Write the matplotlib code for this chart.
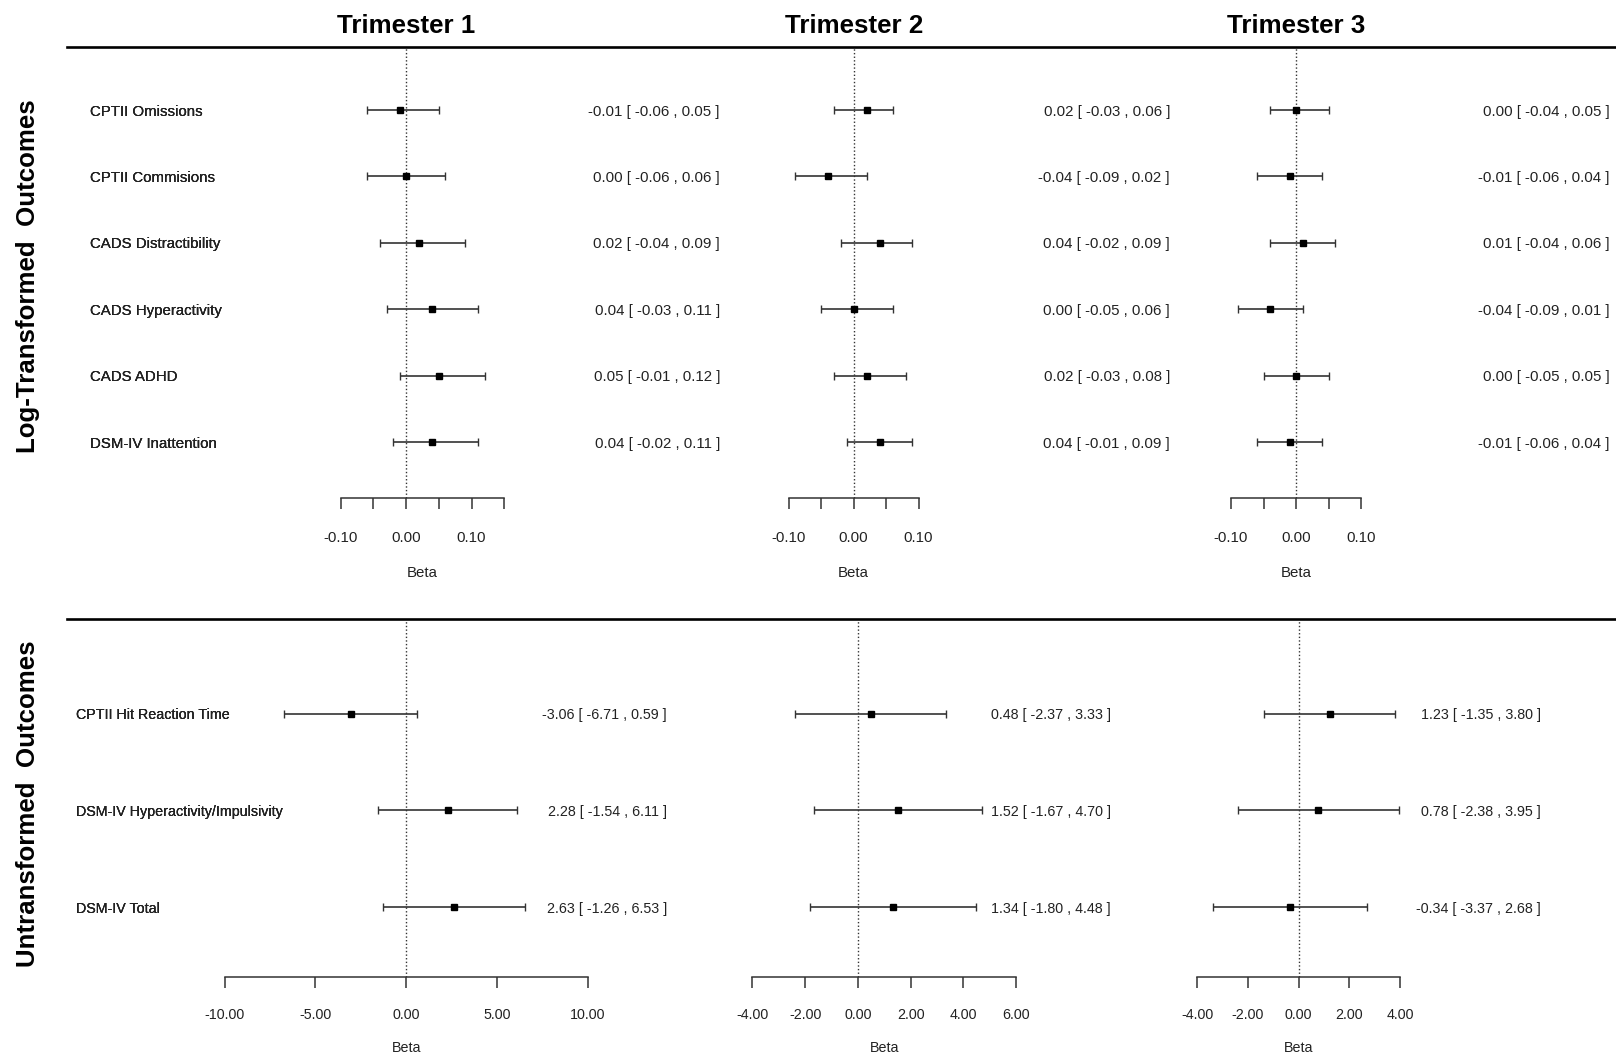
import matplotlib
matplotlib.use("Agg")
import matplotlib.pyplot as plt
import numpy as np
from matplotlib.lines import Line2D
from matplotlib.transforms import blended_transform_factory

plt.rcParams["font.family"] = ["Liberation Sans", "DejaVu Sans"]
plt.rcParams["axes.unicode_minus"] = False

trimesters = ["Trimester 1", "Trimester 2", "Trimester 3"]

log_outcomes = [
    "CPTII Omissions",
    "CPTII Commisions",
    "CADS Distractibility",
    "CADS Hyperactivity",
    "CADS ADHD",
    "DSM-IV Inattention",
]
raw_outcomes = [
    "CPTII Hit Reaction Time",
    "DSM-IV Hyperactivity/Impulsivity",
    "DSM-IV Total",
]

# betas and 95% CIs, one list per trimester
log_est = [
    [-0.01, 0.00, 0.02, 0.04, 0.05, 0.04],
    [0.02, -0.04, 0.04, 0.00, 0.02, 0.04],
    [0.00, -0.01, 0.01, -0.04, 0.00, -0.01],
]
log_lo = [
    [-0.06, -0.06, -0.04, -0.03, -0.01, -0.02],
    [-0.03, -0.09, -0.02, -0.05, -0.03, -0.01],
    [-0.04, -0.06, -0.04, -0.09, -0.05, -0.06],
]
log_hi = [
    [0.05, 0.06, 0.09, 0.11, 0.12, 0.11],
    [0.06, 0.02, 0.09, 0.06, 0.08, 0.09],
    [0.05, 0.04, 0.06, 0.01, 0.05, 0.04],
]

raw_est = [
    [-3.06, 2.28, 2.63],
    [0.48, 1.52, 1.34],
    [1.23, 0.78, -0.34],
]
raw_lo = [
    [-6.71, -1.54, -1.26],
    [-2.37, -1.67, -1.80],
    [-1.35, -2.38, -3.37],
]
raw_hi = [
    [0.59, 6.11, 6.53],
    [3.33, 4.70, 4.48],
    [3.80, 3.95, 2.68],
]

log_ticks = [
    [-0.10, -0.05, 0.00, 0.05, 0.10, 0.15],
    [-0.10, -0.05, 0.00, 0.05, 0.10],
    [-0.10, -0.05, 0.00, 0.05, 0.10],
]
log_tick_labels = [-0.10, 0.00, 0.10]
raw_ticks = [
    [-10, -5, 0, 5, 10],
    [-4, -2, 0, 2, 4, 6],
    [-4, -2, 0, 2, 4],
]

# layout in pixels of a 1616 x 1055 canvas
W, H = 1616, 1055
top_span = [(340.7, 504.3), (788.8, 918.5), (1231.0, 1361.3)]
bot_span = [(224.7, 587.7), (752.4, 1016.2), (1197.0, 1400.0)]
top_ci_right = [720, 1170, 1610]
bot_ci_right = [667, 1111, 1541]


def fx(px):
    return px / W


def fy(py):
    return 1 - py / H


fig = plt.figure(figsize=(W / 100, H / 100), dpi=100)
fig.patch.set_facecolor("white")

txt_col = "#222222"


def forest(ax, est, lo, hi, names, ticks, labeled, ylim, fs, name_x, ci_right, ms, pad):
    est = np.array(est)
    lo = np.array(lo)
    hi = np.array(hi)
    n = len(est)
    ypos = np.arange(n, 0, -1)

    ax.set_xlim(ticks[0], ticks[-1])
    ax.set_ylim(*ylim)
    ax.patch.set_visible(False)

    ax.axvline(0, color="#333333", lw=1.0, ls=(0, (1, 1.6)), zorder=1)
    ax.errorbar(est, ypos, xerr=[est - lo, hi - est], fmt="s", ms=ms,
                mfc="black", mec="black", ecolor="#333333", elinewidth=1.2,
                capsize=3.2, capthick=1.0, clip_on=False, zorder=3)

    ax.set_xticks(ticks)
    ax.set_xticklabels([f"{t:.2f}" if any(abs(t - l) < 1e-9 for l in labeled) else ""
                        for t in ticks])
    ax.set_yticks([])
    for s in ["left", "top", "right"]:
        ax.spines[s].set_visible(False)
    ax.spines["bottom"].set_linewidth(1.1)
    ax.spines["bottom"].set_color("#333333")
    ax.tick_params(axis="x", direction="out", length=8, width=1.1,
                   color="#333333", labelsize=fs, labelcolor=txt_col, pad=pad)

    trans = blended_transform_factory(fig.transFigure, ax.transData)
    for name, y, e, l, h in zip(names, ypos, est, lo, hi):
        ax.text(fx(name_x), y, name, transform=trans, ha="left", va="center_baseline",
                fontsize=fs, color=txt_col)
        ax.text(fx(ci_right), y, f"{e:.2f} [ {l:.2f} , {h:.2f} ]",
                transform=trans, ha="right", va="center_baseline", fontsize=fs, color=txt_col)


for i in range(3):
    x0, x1 = top_span[i]
    ax = fig.add_axes([fx(x0), fy(498), fx(x1) - fx(x0), fy(47) - fy(498)])
    forest(ax, log_est[i], log_lo[i], log_hi[i], log_outcomes, log_ticks[i],
           log_tick_labels, (0.157, 6.949), 10.8, 90, top_ci_right[i], 5, 15.5)
    ax.set_xlabel("Beta", fontsize=10.8, color=txt_col, labelpad=15.5)
    ax.text(0, fy(26), trimesters[i], transform=blended_transform_factory(ax.transData, fig.transFigure),
            ha="center", va="center", fontsize=18.6, fontweight="bold", color="black")

    x0, x1 = bot_span[i]
    ax = fig.add_axes([fx(x0), fy(977), fx(x1) - fx(x0), fy(619) - fy(977)])
    forest(ax, raw_est[i], raw_lo[i], raw_hi[i], raw_outcomes, raw_ticks[i],
           raw_ticks[i], (0.275, 3.984), 10.3, 76.5, bot_ci_right[i], 5, 14)
    ax.set_xlabel("Beta", fontsize=10.3, color=txt_col, labelpad=14.2)

# section rules across the figure
for py in [47, 619]:
    fig.add_artist(Line2D([fx(67), 1.0], [fy(py), fy(py)], transform=fig.transFigure,
                          color="black", lw=1.9))

fig.text(fx(28), fy(276), "Log-Transformed  Outcomes", rotation=90, ha="center",
         va="center", fontsize=18.6, fontweight="bold", color="black")
fig.text(fx(28), fy(804), "Untransformed  Outcomes", rotation=90, ha="center",
         va="center", fontsize=18.6, fontweight="bold", color="black")

fig.savefig("out.png", dpi=100, facecolor="white")
